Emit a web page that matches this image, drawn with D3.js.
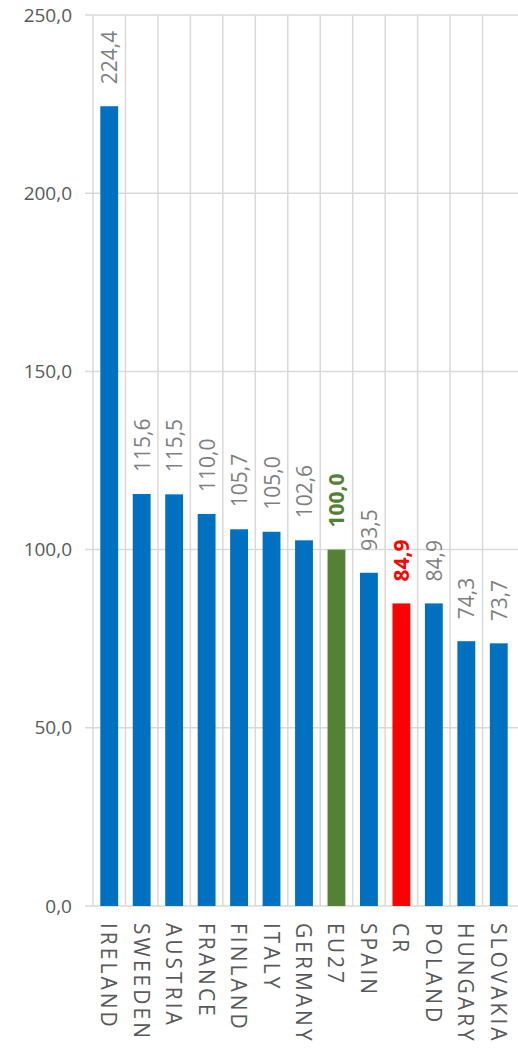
<!DOCTYPE html>
<html>
<head>
<meta charset="utf-8">
<script src="https://d3js.org/d3.v7.min.js"></script>
<style>
  body { margin: 0; background: #fff; font-family: 'Open Sans', sans-serif; }
</style>
</head>
<body>
<div id="chart"></div>
<script>
const countries = ["IRELAND", "SWEEDEN", "AUSTRIA", "FRANCE", "FINLAND", "ITALY", "GERMANY", "EU27", "SPAIN", "CR", "POLAND", "HUNGARY", "SLOVAKIA"]
const values = [224.4, 115.6, 115.5, 110.0, 105.7, 105.0, 102.6, 100.0, 93.5, 84.9, 84.9, 74.3, 73.7]
const yTicks = [0, 50, 100, 150, 200, 250]
const highlight = { "EU27": "#548235", "CR": "#ff0000" }

const w = 518, h = 1050
const margin = { top: 15, right: 3, bottom: 144, left: 93 }

const data = countries.map((c, i) => ({ name: c, value: values[i] }))
const fmt = v => d3.format(".1f")(v).replace(".", ",")

const svg = d3.select("#chart").append("svg").attr("width", w).attr("height", h)

const x = d3.scaleBand().domain(countries).range([margin.left, w - margin.right]).padding(0)
const y = d3.scaleLinear().domain([0, 250]).range([h - margin.bottom, margin.top])

// horizontal gridlines
svg.append("g").selectAll("line")
    .data(yTicks)
    .enter().append("line")
    .attr("x1", margin.left - 8).attr("x2", w)
    .attr("y1", d => y(d)).attr("y2", d => y(d))
    .style("stroke", "#d9d9d9").style("stroke-width", 1.5)

// vertical gridlines at category boundaries
svg.append("g").selectAll("line")
    .data(countries)
    .enter().append("line")
    .attr("x1", d => x(d)).attr("x2", d => x(d))
    .attr("y1", y(250)).attr("y2", y(0))
    .style("stroke", "#d9d9d9").style("stroke-width", 1.5)

const yAxis = d3.axisLeft(y).tickValues(yTicks).tickFormat(fmt).tickSize(0).tickPadding(13)
svg.append("g")
    .attr("transform", "translate(" + (margin.left - 8) + ",0)")
    .call(yAxis)
    .call(g => g.select(".domain").remove())
    .selectAll("text")
    .style("font-family", "'Open Sans', sans-serif")
    .style("font-size", "19px")
    .style("fill", "#595959")

const barW = x.bandwidth() * 0.55

svg.append("g").selectAll("rect")
    .data(data)
    .enter().append("rect")
    .attr("x", d => x(d.name) + (x.bandwidth() - barW) / 2)
    .attr("y", d => y(d.value))
    .attr("width", barW)
    .attr("height", d => y(0) - y(d.value))
    .style("fill", d => highlight[d.name] || "#0070c0")

// value labels
svg.append("g").selectAll("text")
    .data(data)
    .enter().append("text")
    .attr("transform", d => "translate(" + (x(d.name) + x.bandwidth() / 2) + "," + (y(d.value) - 22) + ") rotate(-90)")
    .attr("dominant-baseline", "central")
    .attr("text-anchor", "start")
    .style("font-family", "'Open Sans', sans-serif")
    .style("font-size", "21px")
    .style("font-weight", d => highlight[d.name] ? "bold" : "normal")
    .style("fill", d => highlight[d.name] || "#7f7f7f")
    .text(d => fmt(d.value))

// category labels
svg.append("g").selectAll("text")
    .data(countries)
    .enter().append("text")
    .attr("transform", d => "translate(" + (x(d) + x.bandwidth() / 2) + "," + (y(0) + 17) + ") rotate(90)")
    .attr("dominant-baseline", "central")
    .attr("text-anchor", "start")
    .style("font-family", "'Open Sans', sans-serif")
    .style("font-size", "21px")
    .style("letter-spacing", "3px")
    .style("fill", "#595959")
    .text(d => d)
</script>
</body>
</html>
